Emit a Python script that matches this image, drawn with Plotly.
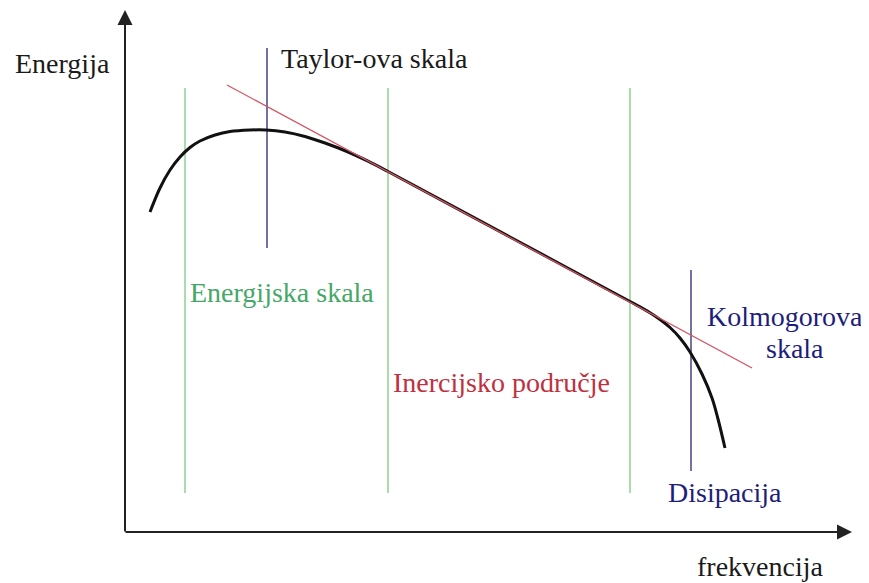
import plotly.graph_objects as go

# energy spectrum curve (frequency, energy) in drawing units
freq = [150, 160, 170, 180, 190, 200, 215, 230, 250, 266, 285, 305, 325, 347, 368, 388,
        510, 630, 640, 650, 660, 670, 680, 690, 702, 712, 718, 725]
energy = [371, 395, 413, 426, 435.5, 442, 448, 451.5, 453, 453, 451, 446.5, 440, 431.5, 421.8, 411.5,
          346, 281.5, 276.1, 270.3, 263.5, 255.5, 245, 231, 209, 185, 164, 135]

# inertial range slope line
slope_x = [227, 752]
slope_y = [498, 215]

# region boundaries
green_x = [185, 388, 630]
green_top, green_bottom = 495, 90
taylor_x, taylor_top, taylor_bottom = 267, 535, 335
kolmo_x, kolmo_top, kolmo_bottom = 691, 313, 112

FONT = "Liberation Serif"
GREEN_LINE = "#8fd18f"
GREEN_TEXT = "#45a867"
RED_LINE = "#d25563"
RED_TEXT = "#c0303e"
NAVY_LINE = "#44447f"
NAVY_TEXT = "#1e1e7a"

fig = go.Figure()

for gx in green_x:
    fig.add_trace(go.Scatter(x=[gx, gx], y=[green_bottom, green_top], mode="lines",
                             line=dict(color=GREEN_LINE, width=1.5), hoverinfo="skip"))

fig.add_trace(go.Scatter(x=[taylor_x, taylor_x], y=[taylor_bottom, taylor_top], mode="lines",
                         line=dict(color=NAVY_LINE, width=1.5), hoverinfo="skip"))
fig.add_trace(go.Scatter(x=[kolmo_x, kolmo_x], y=[kolmo_bottom, kolmo_top], mode="lines",
                         line=dict(color=NAVY_LINE, width=1.5), hoverinfo="skip"))

fig.add_trace(go.Scatter(x=freq, y=energy, mode="lines", line_shape="spline",
                         line=dict(color="#111111", width=3), hoverinfo="skip"))

fig.add_trace(go.Scatter(x=slope_x, y=slope_y, mode="lines",
                         line=dict(color=RED_LINE, width=1.3), hoverinfo="skip"))

# axes with arrows
axis_origin = (125, 51)
fig.add_annotation(x=852, y=51, ax=axis_origin[0] - 1, ay=axis_origin[1], axref="x", ayref="y",
                   text="", showarrow=True, arrowhead=2, arrowsize=1.5, arrowwidth=2,
                   arrowcolor="#222222", standoff=0)
fig.add_annotation(x=125, y=573, ax=axis_origin[0], ay=axis_origin[1] - 1, axref="x", ayref="y",
                   text="", showarrow=True, arrowhead=2, arrowsize=1.5, arrowwidth=2,
                   arrowcolor="#222222", standoff=0)

labels = [
    ("Energija", 62, 520, "center", "#1a1a1a"),
    ("Taylor-ova skala", 279, 525, "left", "#1a1a1a"),
    ("Energijska skala", 188, 291, "left", GREEN_TEXT),
    ("Inercijsko područje", 391, 201, "left", RED_TEXT),
    ("Kolmogorova", 785, 267, "center", NAVY_TEXT),
    ("skala", 795, 235, "center", NAVY_TEXT),
    ("Disipacija", 784, 91, "right", NAVY_TEXT),
    ("frekvencija", 825, 17, "right", "#1a1a1a"),
]
for txt, lx, ly, anchor, col in labels:
    fig.add_annotation(x=lx, y=ly, text=txt, showarrow=False, xanchor=anchor, yanchor="middle",
                       font=dict(family=FONT, size=28, color=col))

# ranges offset by the 8px page margin of the html body
fig.update_layout(
    width=869, height=583,
    margin=dict(l=0, r=0, t=0, b=0),
    paper_bgcolor="white", plot_bgcolor="white",
    showlegend=False,
    xaxis=dict(range=[8, 877], visible=False, fixedrange=True),
    yaxis=dict(range=[-8, 575], visible=False, fixedrange=True),
)

fig.write_html("out.html")
